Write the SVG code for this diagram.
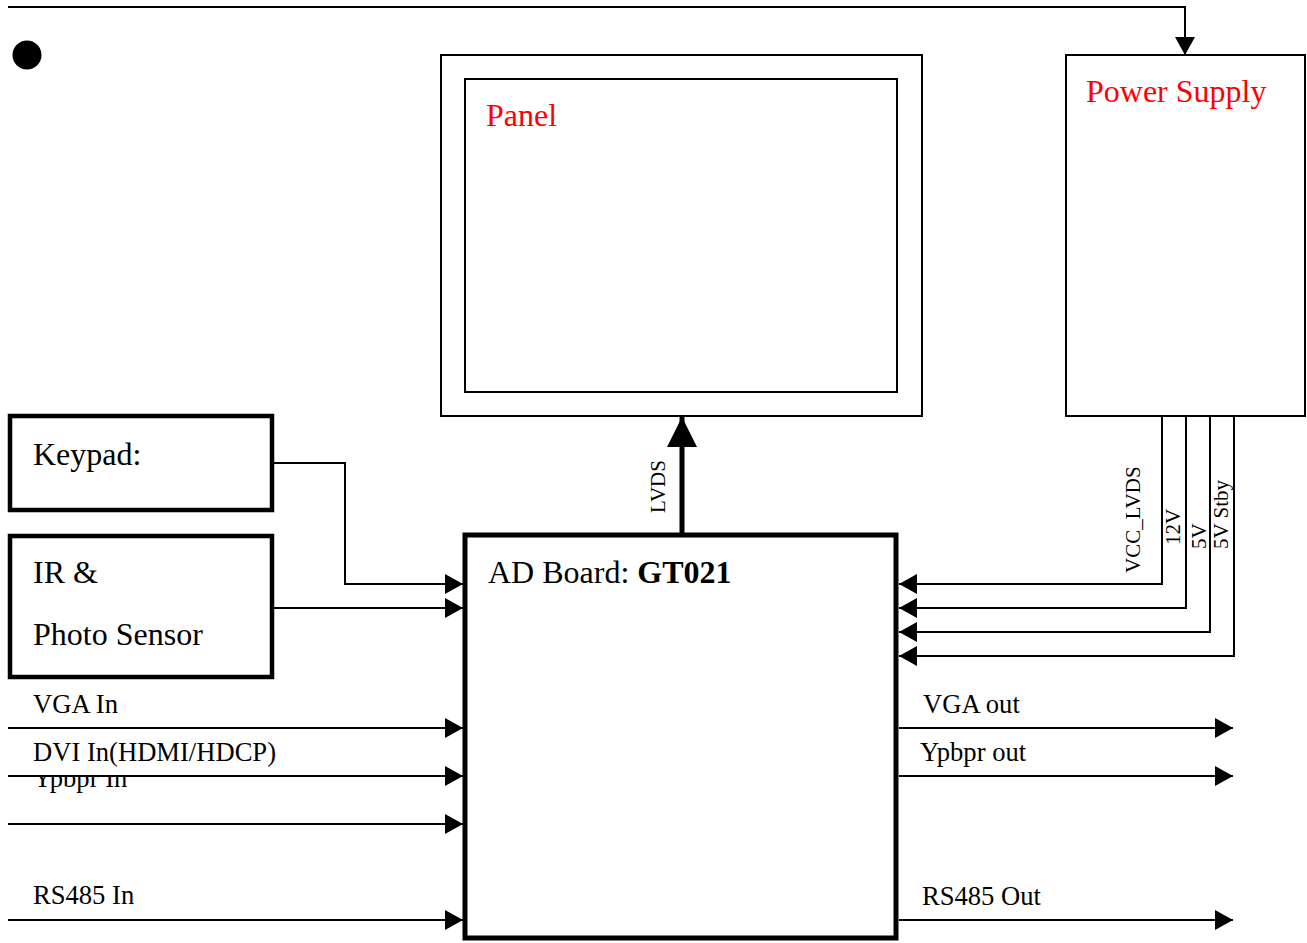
<svg xmlns="http://www.w3.org/2000/svg" width="1307" height="943" viewBox="0 0 1307 943">
<defs>
<style>
.t{font-family:"Liberation Serif","Times New Roman",serif;fill:#000}
.big{font-size:32px}
.sm{font-size:26.6px}
.rot{font-size:21px}
.red{fill:#ff0000}
.box{fill:#fff;stroke:#000;stroke-width:2}
.thick{fill:#fff;stroke:#000;stroke-width:4.5}
.ln{fill:none;stroke:#000;stroke-width:2}
</style>
<marker id="ah" markerUnits="userSpaceOnUse" markerWidth="18" markerHeight="20" refX="18" refY="10" orient="auto">
<path d="M0,0 L18,10 L0,20 Z" fill="#000"/>
</marker>
<marker id="ahBig" markerUnits="userSpaceOnUse" markerWidth="30" markerHeight="30" refX="30" refY="15" orient="auto">
<path d="M0,0 L30,15 L0,30 Z" fill="#000"/>
</marker>
<clipPath id="ypClip"><rect x="0" y="777" width="300" height="30"/></clipPath>
</defs>
<rect width="1307" height="943" fill="#fff"/>

<circle id="bullet" cx="27" cy="55" r="14.5" fill="#000"/>

<g id="panel">
<rect class="box" x="441" y="55" width="481" height="361"/>
<rect class="box" x="465" y="79" width="432" height="313"/>
<text class="t big red" x="486" y="126">Panel</text>
</g>

<g id="power-supply">
<rect class="box" x="1066" y="55" width="239" height="361"/>
<text class="t big red" x="1086" y="102">Power Supply</text>
</g>

<g id="keypad">
<rect class="thick" x="10" y="416" width="262" height="94"/>
<text class="t big" x="33" y="465">Keypad:</text>
</g>

<g id="ir-sensor">
<rect class="thick" x="10" y="536" width="262" height="141"/>
<text class="t big" x="33" y="583">IR &amp;</text>
<text class="t big" x="33" y="645">Photo Sensor</text>
</g>

<g id="ad-board">
<rect x="465" y="535" width="431" height="403" fill="#fff" stroke="#000" stroke-width="5"/>
<text class="t big" x="488" y="583">AD Board: <tspan font-weight="bold">GT021</tspan></text>
</g>

<g id="connectors">
<polyline class="ln" points="8,7 1185,7 1185,55" marker-end="url(#ah)"/>
<line x1="682" y1="535" x2="682" y2="417" stroke="#000" stroke-width="5" marker-end="url(#ahBig)"/>
<polyline class="ln" points="274,463 345,463 345,584 463,584" marker-end="url(#ah)"/>
<line class="ln" x1="274" y1="608" x2="463" y2="608" marker-end="url(#ah)"/>
<polyline class="ln" points="1162,416 1162,584 899,584" marker-end="url(#ah)"/>
<polyline class="ln" points="1186,416 1186,608 899,608" marker-end="url(#ah)"/>
<polyline class="ln" points="1210,416 1210,632 899,632" marker-end="url(#ah)"/>
<polyline class="ln" points="1234,416 1234,656 899,656" marker-end="url(#ah)"/>
<line class="ln" x1="8" y1="728" x2="463" y2="728" marker-end="url(#ah)"/>
<line class="ln" x1="8" y1="776" x2="463" y2="776" marker-end="url(#ah)"/>
<line class="ln" x1="8" y1="824" x2="463" y2="824" marker-end="url(#ah)"/>
<line class="ln" x1="8" y1="920" x2="463" y2="920" marker-end="url(#ah)"/>
<line class="ln" x1="899" y1="728" x2="1233" y2="728" marker-end="url(#ah)"/>
<line class="ln" x1="899" y1="776" x2="1233" y2="776" marker-end="url(#ah)"/>
<line class="ln" x1="899" y1="920" x2="1233" y2="920" marker-end="url(#ah)"/>
</g>

<g id="labels">
<text class="t rot" transform="translate(665,513) rotate(-90)">LVDS</text>
<text class="t rot" transform="translate(1140,573) rotate(-90)">VCC_LVDS</text>
<text class="t rot" transform="translate(1180,545) rotate(-90)">12V</text>
<text class="t rot" transform="translate(1206,549) rotate(-90)">5V</text>
<text class="t rot" transform="translate(1228,549) rotate(-90)">5V Stby</text>
<text class="t sm" x="33" y="713">VGA In</text>
<text class="t sm" x="33" y="761">DVI In(HDMI/HDCP)</text>
<text class="t sm" x="33" y="787" clip-path="url(#ypClip)">Ypbpr In</text>
<text class="t sm" x="33" y="904">RS485 In</text>
<text class="t sm" x="923" y="713">VGA out</text>
<text class="t sm" x="920" y="761">Ypbpr out</text>
<text class="t sm" x="922" y="905">RS485 Out</text>
</g>
</svg>
